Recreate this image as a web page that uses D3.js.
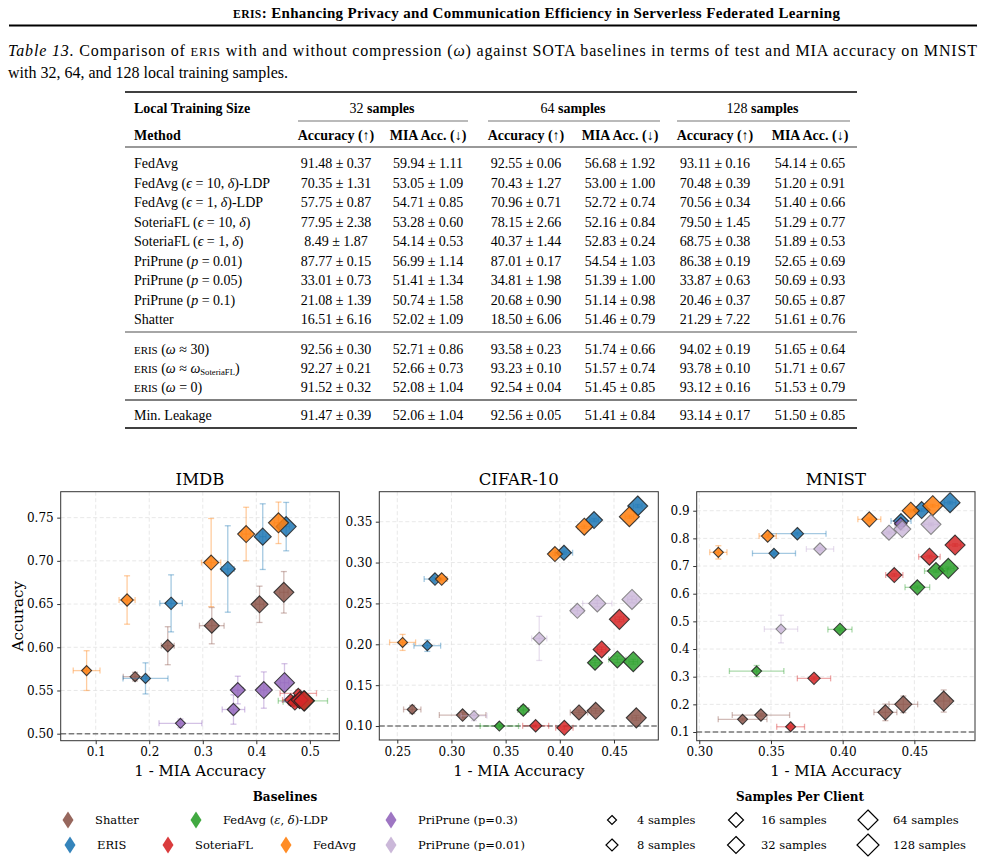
<!DOCTYPE html>
<html>
<head>
<meta charset="utf-8">
<script src="https://cdn.jsdelivr.net/npm/d3@7"></script>
<style>
  body { margin: 0; background: #fff; }
  text { font-family: "Liberation Serif", serif; fill: #000; }
  .chart text { font-family: "DejaVu Serif", serif; }
</style>
</head>
<body>
<script>
'use strict';
// ---- page texts ----
const headerTitle = '<b><sc>eris</sc>: Enhancing Privacy and Communication Efficiency in Serverless Federated Learning</b>';
const captionLines = [
  '<i>Table 13.</i> Comparison of <sc>eris</sc> with and without compression (<i>ω</i>) against SOTA baselines in terms of test and MIA accuracy on MNIST',
  'with 32, 64, and 128 local training samples.'
];

// ---- table data ----
const groupSizes = ['32', '64', '128'];
const columnNames = ['Accuracy (↑)', 'MIA Acc. (↓)'];
const baselineNames = [
  'FedAvg',
  'FedAvg (<i>ϵ</i> = 10, <i>δ</i>)-LDP',
  'FedAvg (<i>ϵ</i> = 1, <i>δ</i>)-LDP',
  'SoteriaFL (<i>ϵ</i> = 10, <i>δ</i>)',
  'SoteriaFL (<i>ϵ</i> = 1, <i>δ</i>)',
  'PriPrune (<i>p</i> = 0.01)',
  'PriPrune (<i>p</i> = 0.05)',
  'PriPrune (<i>p</i> = 0.1)',
  'Shatter'
];
// mean, std pairs: acc32, mia32, acc64, mia64, acc128, mia128
const baselineRows = [
  [91.48, 0.37, 59.94, 1.11, 92.55, 0.06, 56.68, 1.92, 93.11, 0.16, 54.14, 0.65],
  [70.35, 1.31, 53.05, 1.09, 70.43, 1.27, 53.00, 1.00, 70.48, 0.39, 51.20, 0.91],
  [57.75, 0.87, 54.71, 0.85, 70.96, 0.71, 52.72, 0.74, 70.56, 0.34, 51.40, 0.66],
  [77.95, 2.38, 53.28, 0.60, 78.15, 2.66, 52.16, 0.84, 79.50, 1.45, 51.29, 0.77],
  [8.49, 1.87, 54.14, 0.53, 40.37, 1.44, 52.83, 0.24, 68.75, 0.38, 51.89, 0.53],
  [87.77, 0.15, 56.99, 1.14, 87.01, 0.17, 54.54, 1.03, 86.38, 0.19, 52.65, 0.69],
  [33.01, 0.73, 51.41, 1.34, 34.81, 1.98, 51.39, 1.00, 33.87, 0.63, 50.69, 0.93],
  [21.08, 1.39, 50.74, 1.58, 20.68, 0.90, 51.14, 0.98, 20.46, 0.37, 50.65, 0.87],
  [16.51, 6.16, 52.02, 1.09, 18.50, 6.06, 51.46, 0.79, 21.29, 7.22, 51.61, 0.76]
];
const erisNames = [
  '<sc>eris</sc> (<i>ω</i> ≈ 30)',
  '<sc>eris</sc> (<i>ω</i> ≈ <i>ω</i><sub>SoteriaFL</sub>)',
  '<sc>eris</sc> (<i>ω</i> = 0)'
];
const erisRows = [
  [92.56, 0.30, 52.71, 0.86, 93.58, 0.23, 51.74, 0.66, 94.02, 0.19, 51.65, 0.64],
  [92.27, 0.21, 52.66, 0.73, 93.23, 0.10, 51.57, 0.74, 93.78, 0.10, 51.71, 0.67],
  [91.52, 0.32, 52.08, 1.04, 92.54, 0.04, 51.45, 0.85, 93.12, 0.16, 51.53, 0.79]
];
const leakageNames = ['Min. Leakage'];
const leakageRows = [
  [91.47, 0.39, 52.06, 1.04, 92.56, 0.05, 51.41, 0.84, 93.14, 0.17, 51.50, 0.85]
];

// ---- scatter data ----
const methods = ['Shatter', 'ERIS', 'FedAvg (<i>ε</i>, <i>δ</i>)-LDP', 'SoteriaFL', 'PriPrune (p=0.3)', 'FedAvg', 'PriPrune (p=0.01)'];
const methodColors = ['#8c564b', '#1f77b4', '#2ca02c', '#d62728', '#9467bd', '#ff7f0e', '#c5b0d5'];
const sampleSizes = [4, 8, 16, 32, 64, 128];

// [method index, 1 - MIA acc, accuracy, x err, y err, samples per client]
const imdbPoints = [
  [0, 0.1735, 0.566, 0.022, 0.005, 8], [0, 0.2346, 0.6018, 0.012, 0.022, 16], [0, 0.3168, 0.625, 0.023, 0.021, 32],
  [0, 0.406, 0.6497, 0.008, 0.021, 64], [0, 0.4514, 0.6636, 0.008, 0.024, 128],
  [1, 0.193, 0.564, 0.042, 0.018, 8], [1, 0.2408, 0.6508, 0.021, 0.033, 16], [1, 0.3467, 0.6906, 0.012, 0.05, 32],
  [1, 0.412, 0.728, 0.006, 0.038, 64], [1, 0.4558, 0.7396, 0.006, 0.028, 128],
  [2, 0.47, 0.537, 0.02, 0.004, 8], [2, 0.476, 0.538, 0.01, 0.004, 16], [2, 0.481, 0.538, 0.01, 0.004, 32],
  [2, 0.487, 0.538, 0.046, 0.004, 64], [2, 0.49, 0.538, 0.01, 0.004, 128],
  [3, 0.4784, 0.5467, 0.034, 0.004, 8], [3, 0.464, 0.539, 0.015, 0.004, 16], [3, 0.472, 0.536, 0.012, 0.004, 32],
  [3, 0.481, 0.539, 0.01, 0.004, 64], [3, 0.489, 0.538, 0.01, 0.004, 128],
  [4, 0.2583, 0.512, 0.04, 0.005, 8], [4, 0.3573, 0.528, 0.021, 0.017, 16], [4, 0.3654, 0.5505, 0.01, 0.016, 32],
  [4, 0.414, 0.5505, 0.006, 0.021, 64], [4, 0.4526, 0.559, 0.008, 0.022, 128],
  [5, 0.083, 0.573, 0.025, 0.023, 8], [5, 0.1586, 0.6547, 0.015, 0.028, 16], [5, 0.3156, 0.698, 0.018, 0.051, 32],
  [5, 0.381, 0.731, 0.008, 0.031, 64], [5, 0.4414, 0.744, 0.008, 0.024, 128]
];
const cifarPoints = [
  [0, 0.2638, 0.1203, 0.008, 0.005, 8], [0, 0.3103, 0.1134, 0.0215, 0.003, 16], [0, 0.4177, 0.1166, 0.008, 0.003, 32],
  [0, 0.4331, 0.1186, 0.004, 0.003, 64], [0, 0.4706, 0.11, 0.004, 0.003, 128],
  [1, 0.2777, 0.1983, 0.0123, 0.007, 8], [1, 0.2848, 0.2798, 0.01, 0.002, 16], [1, 0.4038, 0.312, 0.008, 0.002, 32],
  [1, 0.4316, 0.352, 0.004, 0.002, 64], [1, 0.4719, 0.3692, 0.004, 0.002, 128],
  [2, 0.3442, 0.1, 0.0177, 0.002, 8], [2, 0.3663, 0.1196, 0.005, 0.005, 16], [2, 0.4325, 0.1774, 0.004, 0.003, 32],
  [2, 0.4531, 0.1815, 0.008, 0.004, 64], [2, 0.4678, 0.1787, 0.004, 0.003, 128],
  [3, 0.3777, 0.1003, 0.012, 0.002, 16], [3, 0.4042, 0.0978, 0.008, 0.002, 32],
  [3, 0.4386, 0.1937, 0.004, 0.003, 64], [3, 0.455, 0.2305, 0.004, 0.003, 128],
  [5, 0.2549, 0.2023, 0.012, 0.0098, 8], [5, 0.291, 0.2798, 0.005, 0.002, 16], [5, 0.3955, 0.3104, 0.005, 0.002, 32],
  [5, 0.4226, 0.3439, 0.006, 0.002, 64], [5, 0.4642, 0.3561, 0.004, 0.002, 128],
  [6, 0.3208, 0.1126, 0.012, 0.006, 8], [6, 0.381, 0.2072, 0.007, 0.027, 16], [6, 0.4162, 0.241, 0.006, 0.004, 32],
  [6, 0.4346, 0.25, 0.0135, 0.004, 64], [6, 0.4666, 0.2549, 0.004, 0.004, 128]
];
const mnistPoints = [
  [0, 0.3302, 0.1457, 0.017, 0.004, 8], [0, 0.343, 0.1613, 0.02, 0.005, 16], [0, 0.4298, 0.171, 0.008, 0.03, 32],
  [0, 0.4423, 0.2, 0.01, 0.03, 64], [0, 0.4705, 0.212, 0.004, 0.04, 128],
  [1, 0.3521, 0.7458, 0.015, 0.005, 8], [1, 0.3684, 0.8169, 0.02, 0.005, 16], [1, 0.4407, 0.8627, 0.007, 0.005, 32],
  [1, 0.4551, 0.9024, 0.004, 0.005, 64], [1, 0.4749, 0.929, 0.004, 0.005, 128],
  [2, 0.34, 0.3204, 0.019, 0.02, 8], [2, 0.3981, 0.471, 0.0084, 0.005, 16], [2, 0.4521, 0.6229, 0.0086, 0.005, 32],
  [2, 0.4651, 0.6819, 0.008, 0.005, 64], [2, 0.4737, 0.6916, 0.004, 0.005, 128],
  [3, 0.3637, 0.119, 0.0097, 0.005, 8], [3, 0.38, 0.2939, 0.0116, 0.005, 16], [3, 0.436, 0.6674, 0.006, 0.005, 32],
  [3, 0.4605, 0.7337, 0.0075, 0.005, 64], [3, 0.4784, 0.7759, 0.004, 0.005, 128],
  [4, 0.4405, 0.853, 0.004, 0.004, 16],
  [5, 0.3133, 0.7494, 0.006, 0.024, 8], [5, 0.3477, 0.8084, 0.006, 0.005, 16], [5, 0.4186, 0.8687, 0.008, 0.005, 32],
  [5, 0.4475, 0.9, 0.004, 0.005, 64], [5, 0.4628, 0.918, 0.004, 0.005, 128],
  [6, 0.357, 0.4722, 0.0116, 0.05, 8], [6, 0.3842, 0.7614, 0.0095, 0.005, 16], [6, 0.4323, 0.8205, 0.004, 0.005, 32],
  [6, 0.4416, 0.8337, 0.004, 0.005, 64], [6, 0.4616, 0.8506, 0.005, 0.005, 128]
];

const imdbXTicks = [0.1, 0.2, 0.3, 0.4, 0.5];
const imdbYTicks = [0.50, 0.55, 0.60, 0.65, 0.70, 0.75];
const cifarXTicks = [0.25, 0.30, 0.35, 0.40, 0.45];
const cifarYTicks = [0.10, 0.15, 0.20, 0.25, 0.30, 0.35];
const mnistXTicks = [0.30, 0.35, 0.40, 0.45];
const mnistYTicks = [0.1, 0.2, 0.3, 0.4, 0.5, 0.6, 0.7, 0.8, 0.9];

// ---------------------------------------------------------------
const svg = d3.select(document.body).append('svg')
  .attr('width', 986).attr('height', 862);

// text with small markup: <i>, <b>, <sc>, <sub>
function rich(sel, str) {
  const st = {};
  str.split(/(<\/?(?:i|b|sc|sub)>)/).forEach(function(p) {
    const m = p.match(/^<(\/?)(\w+)>$/);
    if (m) { st[m[2]] = !m[1]; return; }
    if (!p) return;
    const t = sel.append('tspan').text(st.sc ? p.toUpperCase() : p);
    if (st.i) t.attr('font-style', 'italic');
    if (st.b) t.attr('font-weight', 'bold');
    if (st.sc) t.attr('font-size', '0.78em');
    if (st.sub) t.attr('font-size', '0.62em').attr('baseline-shift', '-25%');
  });
  return sel;
}

function hline(g, y, x1, x2, w, color) {
  g.append('line').attr('x1', x1).attr('x2', x2).attr('y1', y).attr('y2', y)
    .attr('stroke', color).attr('stroke-width', w);
}

// ---- header + caption ----
rich(svg.append('text').attr('x', 233).attr('y', 18).attr('font-size', 15)
  .attr('textLength', 607).attr('lengthAdjust', 'spacing'), headerTitle);
hline(svg, 25.5, 9, 977, 1.8, '#000');
captionLines.forEach(function(line, i) {
  const t = svg.append('text').attr('x', 8).attr('y', 56 + i * 22).attr('font-size', 16);
  if (i === 0) t.attr('textLength', 969).attr('lengthAdjust', 'spacing');
  rich(t, line);
});

// ---- table ----
function drawTable() {
  const g = svg.append('g');
  const colX = [336, 428, 526, 620, 715, 810];
  const labelX = 134;
  const fmt = d3.format('.2f');

  hline(g, 92, 125, 857, 1.4, '#000');
  rich(g.append('text').attr('x', labelX).attr('y', 113).attr('font-size', 14), '<b>Local Training Size</b>');
  groupSizes.forEach(function(s, i) {
    const cx = (colX[i * 2] + colX[i * 2 + 1]) / 2;
    rich(g.append('text').attr('x', cx).attr('y', 113).attr('font-size', 14).attr('text-anchor', 'middle'),
      s + '<b> samples</b>');
    hline(g, 121, colX[i * 2] - 38, colX[i * 2 + 1] + 40, 1.2, '#777');
  });
  rich(g.append('text').attr('x', labelX).attr('y', 140).attr('font-size', 14), '<b>Method</b>');
  colX.forEach(function(cx, i) {
    g.append('text').attr('x', cx).attr('y', 140).attr('font-size', 14).attr('font-weight', 'bold')
      .attr('text-anchor', 'middle').text(columnNames[i % 2]);
  });
  hline(g, 147, 125, 857, 1.6, '#777');

  function block(names, rows, y0, step) {
    rows.forEach(function(r, ri) {
      const y = y0 + ri * step + 5;
      rich(g.append('text').attr('x', labelX).attr('y', y).attr('font-size', 14), names[ri]);
      colX.forEach(function(cx, ci) {
        g.append('text').attr('x', cx).attr('y', y).attr('font-size', 14).attr('text-anchor', 'middle')
          .text(fmt(r[ci * 2]) + ' ± ' + fmt(r[ci * 2 + 1]));
      });
    });
  }
  block(baselineNames, baselineRows, 163, 19.5);
  hline(g, 332, 125, 857, 1.6, '#888');
  block(erisNames, erisRows, 349, 19);
  hline(g, 400, 125, 857, 1, '#000');
  block(leakageNames, leakageRows, 415, 19);
  hline(g, 428, 125, 857, 1.4, '#000');
}
drawTable();

// ---- scatter panels ----
const pointR = d3.scaleOrdinal().domain(sampleSizes).range([4, 5, 6.2, 7.5, 8.5, 10]);
const legendR = d3.scaleOrdinal().domain(sampleSizes).range([4.5, 6, 7.5, 8.5, 10, 11]);
const color = d3.scaleOrdinal().domain(d3.range(methods.length)).range(methodColors);

function diamond(rx, ry) {
  return 'M0,' + (-ry) + 'L' + rx + ',0L0,' + ry + 'L' + (-rx) + ',0Z';
}

function drawPanel(cfg) {
  const g = svg.append('g').attr('class', 'chart');
  const x = d3.scaleLinear().domain(cfg.xDomain).range([cfg.left, cfg.right]);
  const y = d3.scaleLinear().domain(cfg.yDomain).range([cfg.bottom, cfg.top]);

  // grid
  g.append('g').selectAll('line').data(cfg.xTicks).join('line')
    .attr('x1', d => x(d)).attr('x2', d => x(d)).attr('y1', cfg.top).attr('y2', cfg.bottom)
    .attr('stroke', '#e2e2e2').attr('stroke-width', 0.8).attr('stroke-dasharray', '4,2.5');
  g.append('g').selectAll('line').data(cfg.yTicks).join('line')
    .attr('y1', d => y(d)).attr('y2', d => y(d)).attr('x1', cfg.left).attr('x2', cfg.right)
    .attr('stroke', '#e2e2e2').attr('stroke-width', 0.8).attr('stroke-dasharray', '4,2.5');

  // random guess line
  g.append('line').attr('x1', cfg.left).attr('x2', cfg.right)
    .attr('y1', y(cfg.chance)).attr('y2', y(cfg.chance))
    .attr('stroke', '#7a7a7a').attr('stroke-width', 1.4).attr('stroke-dasharray', '5.5,2.5');

  methods.forEach(function(m, mi) {
    const pts = cfg.points.filter(p => p[0] === mi);
    if (!pts.length) return;
    const eg = g.append('g').attr('stroke', color(mi)).attr('stroke-opacity', 0.4).attr('stroke-width', 1.3);
    pts.forEach(function(p) {
      const cx = x(p[1]), cy = y(p[2]);
      const xl = x(p[1] - p[3]), xr = x(p[1] + p[3]);
      const yt = y(p[2] + p[4]), yb = y(p[2] - p[4]);
      eg.append('line').attr('x1', xl).attr('x2', xr).attr('y1', cy).attr('y2', cy);
      eg.append('line').attr('x1', cx).attr('x2', cx).attr('y1', yt).attr('y2', yb);
      [xl, xr].forEach(function(v) {
        eg.append('line').attr('x1', v).attr('x2', v).attr('y1', cy - 3).attr('y2', cy + 3);
      });
      [yt, yb].forEach(function(v) {
        eg.append('line').attr('x1', cx - 3).attr('x2', cx + 3).attr('y1', v).attr('y2', v);
      });
    });
    g.append('g').selectAll('path').data(pts).join('path')
      .attr('d', d => diamond(pointR(d[5]), pointR(d[5])))
      .attr('transform', d => 'translate(' + x(d[1]) + ',' + y(d[2]) + ')')
      .attr('fill', color(mi)).attr('fill-opacity', mi === 6 ? 0.75 : 0.85)
      .attr('stroke', mi === 6 ? '#777' : '#222').attr('stroke-opacity', 0.85).attr('stroke-width', 1.1);
  });

  // frame
  g.append('rect').attr('x', cfg.left).attr('y', cfg.top)
    .attr('width', cfg.right - cfg.left).attr('height', cfg.bottom - cfg.top)
    .attr('fill', 'none').attr('stroke', '#333').attr('stroke-width', 1);

  const xAxis = g.append('g').attr('transform', 'translate(0,' + cfg.bottom + ')')
    .call(d3.axisBottom(x).tickValues(cfg.xTicks).tickFormat(d3.format(cfg.xFmt)).tickSize(3.5).tickPadding(3.5));
  const yAxis = g.append('g').attr('transform', 'translate(' + cfg.left + ',0)')
    .call(d3.axisLeft(y).tickValues(cfg.yTicks).tickFormat(d3.format(cfg.yFmt)).tickSize(3.5).tickPadding(3.5));
  [xAxis, yAxis].forEach(function(a) {
    a.select('.domain').remove();
    a.attr('font-family', null).attr('font-size', 12);
    a.selectAll('line').attr('stroke', '#333');
    a.selectAll('text').attr('fill', '#222');
  });

  g.append('text').attr('x', (cfg.left + cfg.right) / 2).attr('y', 485)
    .attr('text-anchor', 'middle').attr('font-size', 16.5).text(cfg.title);
  g.append('text').attr('x', (cfg.left + cfg.right) / 2).attr('y', 776)
    .attr('text-anchor', 'middle').attr('font-size', 15).text('1 - MIA Accuracy');
  if (cfg.ylabel) {
    g.append('text').attr('transform', 'translate(23,' + ((cfg.top + cfg.bottom) / 2) + ') rotate(-90)')
      .attr('text-anchor', 'middle').attr('font-size', 15).text(cfg.ylabel);
  }
}

drawPanel({
  title: 'IMDB', ylabel: 'Accuracy', points: imdbPoints, chance: 0.5,
  left: 60.7, right: 339.3, top: 491.7, bottom: 740.7,
  xDomain: [0.0346, 0.555], yDomain: [0.4919, 0.780],
  xTicks: imdbXTicks, yTicks: imdbYTicks, xFmt: '.1f', yFmt: '.2f'
});
drawPanel({
  title: 'CIFAR-10', points: cifarPoints, chance: 0.1,
  left: 379.3, right: 658.3, top: 491.7, bottom: 740,
  xDomain: [0.2334, 0.4909], yDomain: [0.0829, 0.3867],
  xTicks: cifarXTicks, yTicks: cifarYTicks, xFmt: '.2f', yFmt: '.2f'
});
drawPanel({
  title: 'MNIST', points: mnistPoints, chance: 0.1,
  left: 696.7, right: 975, top: 491.7, bottom: 740.7,
  xDomain: [0.2982, 0.4923], yDomain: [0.0686, 0.9687],
  xTicks: mnistXTicks, yTicks: mnistYTicks, xFmt: '.2f', yFmt: '.1f'
});

// ---- legends ----
function drawLegends() {
  const g = svg.append('g').attr('class', 'chart');
  g.append('text').attr('x', 285).attr('y', 801).attr('text-anchor', 'middle')
    .attr('font-size', 12).attr('font-weight', 'bold').text('Baselines');
  // legend slot for each method: [marker x, row]
  const slots = [[68, 0], [70, 1], [196, 0], [168, 1], [391, 0], [286, 1], [391, 1]];
  methods.forEach(function(m, mi) {
    const mx = slots[mi][0], my = 820 + slots[mi][1] * 25;
    g.append('path').attr('d', diamond(5.5, 8.5)).attr('transform', 'translate(' + mx + ',' + my + ')')
      .attr('fill', color(mi)).attr('fill-opacity', 0.9);
    rich(g.append('text').attr('x', mx + 27).attr('y', my + 4).attr('font-size', 11.5), m);
  });

  g.append('text').attr('x', 800).attr('y', 801).attr('text-anchor', 'middle')
    .attr('font-size', 12).attr('font-weight', 'bold').text('Samples Per Client');
  const sizeCols = [612, 736, 868];
  sampleSizes.forEach(function(s, i) {
    const mx = sizeCols[Math.floor(i / 2)], my = 820 + (i % 2) * 25;
    g.append('path').attr('d', diamond(legendR(s), legendR(s)))
      .attr('transform', 'translate(' + mx + ',' + my + ')')
      .attr('fill', '#fff').attr('stroke', '#000').attr('stroke-width', 1.2);
    g.append('text').attr('x', mx + 25).attr('y', my + 4).attr('font-size', 11.5).text(s + ' samples');
  });
}
drawLegends();
</script>
</body>
</html>
